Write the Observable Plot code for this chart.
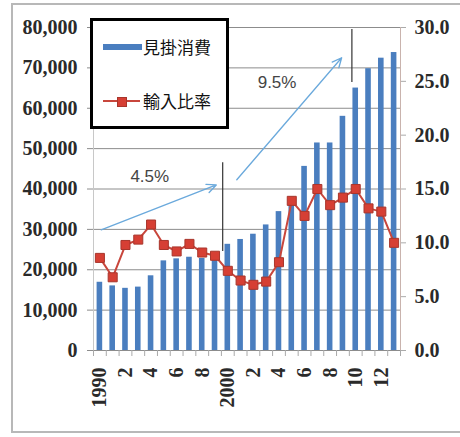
<!DOCTYPE html>
<html>
<head>
<meta charset="utf-8">
<script src="https://cdn.jsdelivr.net/npm/d3@7"></script>
<script src="https://cdn.jsdelivr.net/npm/@observablehq/plot@0.6"></script>
<style>
  body { margin: 0; background: #fff; }
  #wrap { position: relative; width: 460px; height: 437px; overflow: hidden; }
  #frame { position: absolute; left: 11px; top: 3px; width: 470px; height: 430px;
           border: 2px solid #b8b8b8; box-sizing: border-box; pointer-events: none; }
  #legend { position: absolute; left: 90px; top: 18px; width: 139px; height: 111px;
            border: 3px solid #000; box-sizing: border-box; background: #fff;
            font-family: "Noto Sans CJK JP", sans-serif; font-size: 17px; color: #111; }
  #legend .item { position: absolute; left: 0; height: 24px; }
  #legend .label { position: absolute; left: 50px; top: 0; line-height: 24px; white-space: nowrap; }
  #legend .bar { position: absolute; left: 10px; top: 9px; width: 39px; height: 6px; background: #4a7ebf; }
  #legend .line { position: absolute; left: 10px; top: 11px; width: 37px; height: 2px; background: #c8463c; }
  #legend .sq { position: absolute; left: 24px; top: 8px; width: 8px; height: 8px; background: #d63f34;
                border: 1px solid #a8362c; }
</style>
</head>
<body>
<div id="wrap">
  <div id="chart"></div>
  <div id="frame"></div>
  <div id="legend">
    <div class="item" style="top:14px"><span class="bar"></span><span class="label">見掛消費</span></div>
    <div class="item" style="top:68px"><span class="line"></span><span class="sq"></span><span class="label">輸入比率</span></div>
  </div>
</div>
<script>
// Apparent consumption (left axis) and import ratio in % (right axis), 1990–2013
const years = [1990, 1991, 1992, 1993, 1994, 1995, 1996, 1997, 1998, 1999, 2000, 2001,
               2002, 2003, 2004, 2005, 2006, 2007, 2008, 2009, 2010, 2011, 2012, 2013];
const consumption = [16900, 16000, 15400, 15700, 18500, 22200, 22700, 23100, 22800, 22500, 26300, 27500,
                     28800, 31100, 34400, 38000, 45600, 51400, 51400, 58000, 65000, 69800, 72400, 73800];
const importRatio = [8.6, 6.8, 9.8, 10.3, 11.7, 9.8, 9.2, 9.9, 9.1, 8.8, 7.4, 6.5,
                     6.1, 6.4, 8.2, 13.9, 12.5, 15.0, 13.5, 14.2, 15.0, 13.2, 12.9, 10.0];

const leftTicks = [0, 10000, 20000, 30000, 40000, 50000, 60000, 70000, 80000];
const rightTicks = [0, 5, 10, 15, 20, 25, 30];
const labelYears = [1990, 1992, 1994, 1996, 1998, 2000, 2002, 2004, 2006, 2008, 2010, 2012];
const labelText = ["1990", "2", "4", "6", "8", "2000", "2", "4", "6", "8", "10", "12"];

// Growth-rate annotations: arrows, period dividers and their labels
const growthArrows = [
  {x1: 1990.1, y1: 29900, x2: 1999.1, y2: 41000},
  {x1: 2000.7, y1: 42300, x2: 2008.9, y2: 72500}
];
const dividers = [
  {x: 1999.6, y1: 46500, y2: 24500},
  {x: 2009.7, y1: 79500, y2: 66400}
];
const growthLabels = [
  {x: 1993.9, y: 43100, text: "4.5%"},
  {x: 2003.85, y: 66400, text: "9.5%"}
];

const yMax = 80000, rMax = 30;
const k = yMax / rMax; // maps the ratio onto the left-axis scale

const data = years.map((year, i) => ({year, value: consumption[i], ratio: importRatio[i]}));
const bounds = years.concat([2014]).map(y => y - 0.5);

const serif = "Liberation Serif, Times New Roman, serif";
const gridColor = "#8c8c8c";
const axisText = {fill: "#2a2a2a", fontSize: 20, fontFamily: serif, fontWeight: "bold", label: null};

const chart = Plot.plot({
  width: 460,
  height: 437,
  marginLeft: 93,
  marginRight: 60,
  marginTop: 27,
  marginBottom: 87,
  x: {type: "linear", domain: [1989.5, 2013.5], axis: null},
  y: {domain: [0, yMax], axis: null},
  style: {background: "transparent"},
  marks: [
    Plot.ruleY(leftTicks, {stroke: gridColor, strokeWidth: 1}),
    Plot.ruleX([1989.5], {stroke: "#c8c8c8"}),
    Plot.ruleX([2013.5], {stroke: "#c9b3ad"}),
    Plot.axisY({anchor: "left", ticks: leftTicks, tickFormat: d3.format(","), tickSize: 6,
                tickPadding: 10, stroke: gridColor, ...axisText}),
    Plot.axisY(rightTicks.map(v => v * k), {anchor: "right", tickFormat: v => (v / k).toFixed(1), tickSize: 5,
                tickPadding: 9, stroke: "#aaa", ...axisText}),
    Plot.axisX({ticks: bounds, tickFormat: () => "", tickSize: 6, stroke: "#aaa", label: null}),
    Plot.axisX({ticks: labelYears, tickFormat: d => labelText[labelYears.indexOf(d)], tickSize: 0,
                tickPadding: 17, tickRotate: -90, ...axisText}),
    Plot.rectY(data, {x1: d => d.year - 0.5, x2: d => d.year + 0.5, y: "value",
                      fill: "#4a7ebf", insetLeft: 3.6, insetRight: 3.6}),
    Plot.arrow(growthArrows, {x1: "x1", y1: "y1", x2: "x2", y2: "y2", stroke: "#6aa9dc",
                              strokeWidth: 1.3, headLength: 12, headAngle: 50}),
    Plot.ruleX(dividers, {x: "x", y1: "y1", y2: "y2", stroke: "#333", strokeWidth: 1.2}),
    Plot.text(growthLabels, {x: "x", y: "y", text: "text", fontSize: 17,
                             fontFamily: "Liberation Sans, Arial, sans-serif", fill: "#444"}),
    Plot.line(data, {x: "year", y: d => d.ratio * k, stroke: "#c8463c", strokeWidth: 2}),
    Plot.dot(data, {x: "year", y: d => d.ratio * k, symbol: "square", r: 5.1,
                    fill: "#d63f34", stroke: "#a8362c", strokeWidth: 1})
  ]
});
document.getElementById("chart").appendChild(chart);
</script>
</body>
</html>
